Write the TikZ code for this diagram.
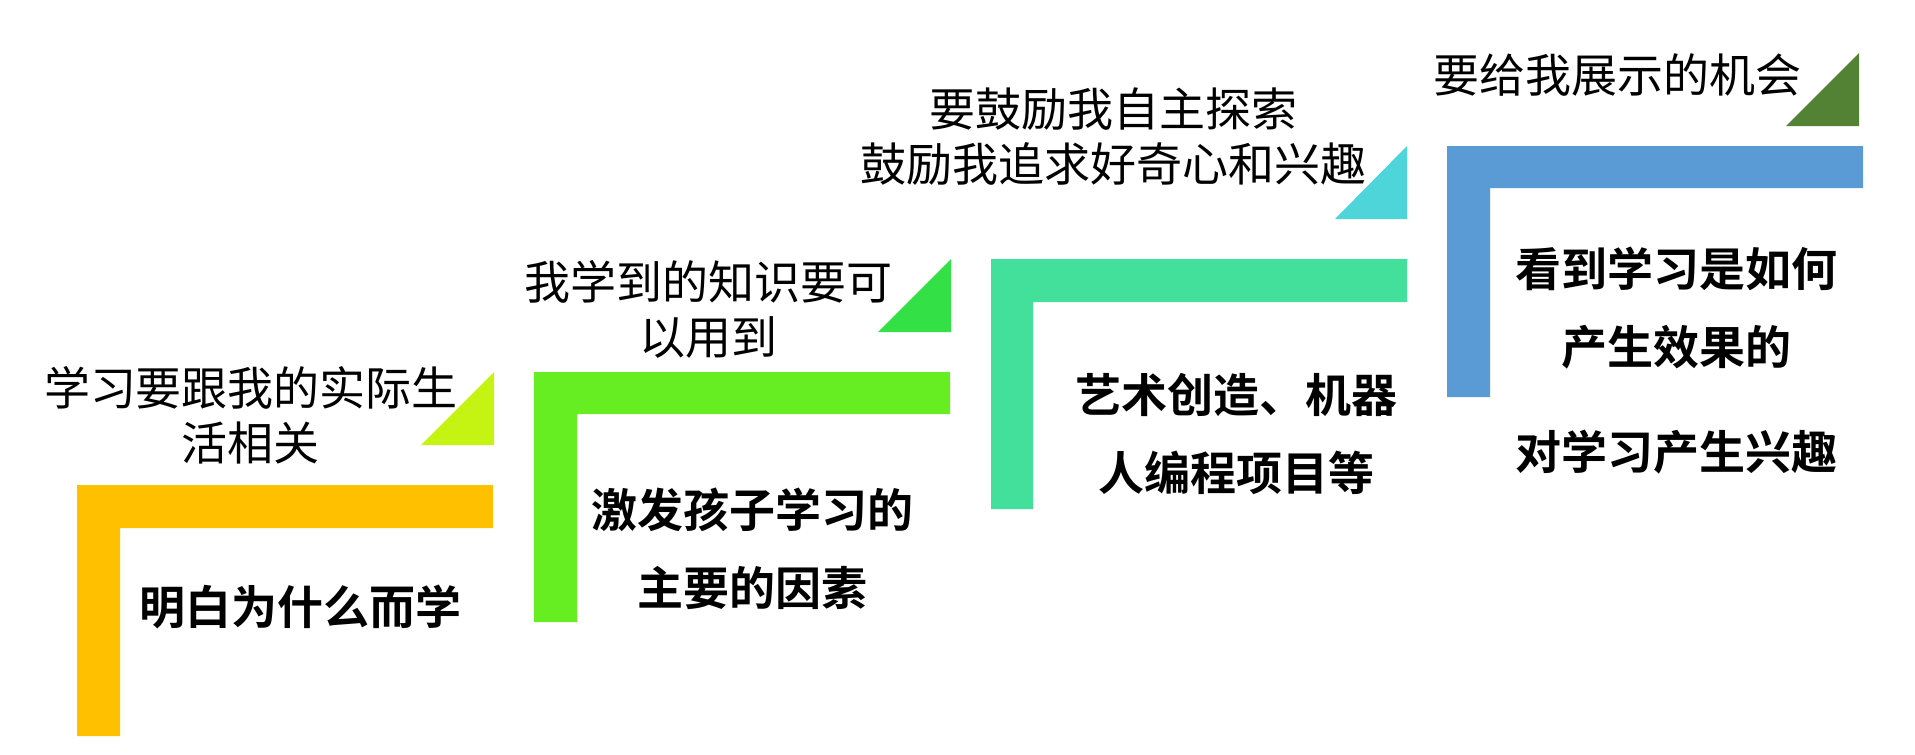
\documentclass[tikz,border=0pt]{standalone}
\usepackage{fontspec}
\newfontfamily\cjk{Noto Sans CJK SC}
\newfontfamily\cjkb{Noto Sans CJK SC Bold}
\definecolor{cYellow}{HTML}{FFC000}
\definecolor{cLime}{HTML}{C5F312}
\definecolor{cGreenL}{HTML}{66EE22}
\definecolor{cGreenT}{HTML}{33E147}
\definecolor{cTeal}{HTML}{42E09B}
\definecolor{cCyan}{HTML}{4DD5DA}
\definecolor{cBlue}{HTML}{5B9BD5}
\definecolor{cDark}{HTML}{548235}
\tikzset{
  lbl/.style={inner sep=0pt, align=center, font=\cjk\fontsize{46}{55}\selectfont, text=black},
  bld/.style={inner sep=0pt, align=center, font=\cjkb\fontsize{46}{78}\selectfont, text=black},
}
\begin{document}
\begin{tikzpicture}[x=1pt,y=-1pt]
\useasboundingbox (0,0) rectangle (1915,755);
% L shapes
\fill[cYellow] (77,485) -- (493,485) -- (493,528) -- (120,528) -- (120,736) -- (77,736) -- cycle;
\fill[cGreenL] (534,372) -- (950,372) -- (950,414) -- (577,414) -- (577,622) -- (534,622) -- cycle;
\fill[cTeal] (991,259) -- (1407,259) -- (1407,302) -- (1033,302) -- (1033,509) -- (991,509) -- cycle;
\fill[cBlue] (1447,146) -- (1863,146) -- (1863,188) -- (1490,188) -- (1490,397) -- (1447,397) -- cycle;
% triangles
\fill[cLime] (494,372) -- (494,445) -- (421,445) -- cycle;
\fill[cGreenT] (951,259) -- (951,332) -- (878,332) -- cycle;
\fill[cCyan] (1407,146) -- (1407,219) -- (1335,219) -- cycle;
\fill[cDark] (1859,53) -- (1859,126) -- (1786,126) -- cycle;
% labels
\node[lbl] (t1) at (251,415.5) {学习要跟我的实际生\\活相关};
\node[lbl] (t2) at (708,309.5) {我学到的知识要可\\以用到};
\node[lbl] (t3) at (1113,136.5) {要鼓励我自主探索\\鼓励我追求好奇心和兴趣};
\node[lbl] (t4) at (1617,75) {要给我展示的机会};
\node[bld] (b1) at (300,607) {明白为什么而学};
\node[bld] (b2) at (752,549) {激发孩子学习的\\主要的因素};
\node[bld] (b3) at (1236,434) {艺术创造、机器\\人编程项目等};
\node[bld] (b4) at (1676,360.5) {看到学习是如何\\产生效果的\\[27pt]对学习产生兴趣};
\end{tikzpicture}
\end{document}
